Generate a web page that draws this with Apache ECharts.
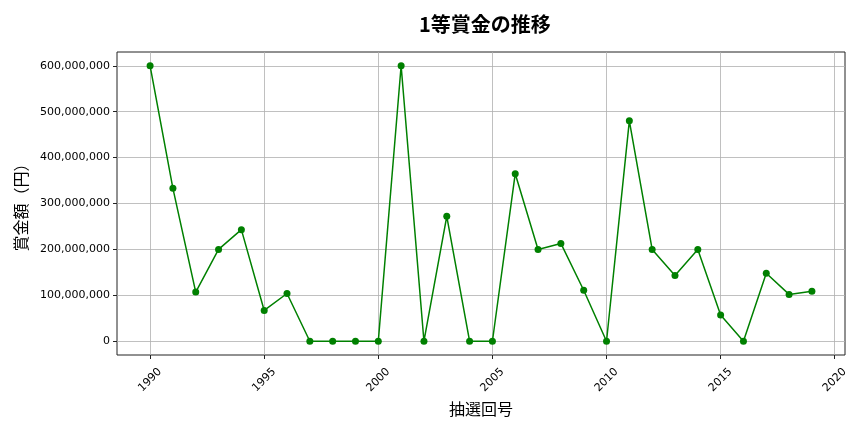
<!DOCTYPE html>
<html>
<head>
<meta charset="utf-8">
<script src="https://cdn.jsdelivr.net/npm/echarts@6/dist/echarts.min.js"></script>
<style>
  html, body { margin: 0; padding: 0; background: #fff; }
  #chart { width: 864px; height: 432px; }
</style>
</head>
<body>
<div id="chart"></div>
<script>
// 抽選回号 (x) と 1等賞金 (y)
const years = [1990, 1991, 1992, 1993, 1994, 1995, 1996, 1997, 1998, 1999,
               2000, 2001, 2002, 2003, 2004, 2005, 2006, 2007, 2008, 2009,
               2010, 2011, 2012, 2013, 2014, 2015, 2016, 2017, 2018, 2019];
const prize = [600000000, 333000000, 107000000, 200000000, 243000000, 67000000, 104000000, 0, 0, 0,
               0, 600000000, 0, 272000000, 0, 0, 365000000, 200000000, 213000000, 111000000,
               0, 480000000, 200000000, 143000000, 200000000, 57000000, 0, 148000000, 102000000, 109000000];
const xTicks = [1990, 1995, 2000, 2005, 2010, 2015, 2020];
const yTicks = [0, 100000000, 200000000, 300000000, 400000000, 500000000, 600000000];

const cjk = '"Noto Sans CJK JP", "Noto Sans", sans-serif';
const num = '"DejaVu Sans", sans-serif';

let mycharts = echarts.init(document.getElementById('chart'), null, { renderer: 'canvas' });

let option
option = {
  backgroundColor: '#ffffff',
  animation: false,
  title: {
    text: '1等賞金の推移',
    left: 414,
    top: 9,
    textStyle: { fontFamily: cjk, fontSize: 20, fontWeight: 'bold', color: '#000' }
  },
  grid: {
    left: 117, right: 19, top: 52, bottom: 77,
    show: true,
    borderColor: '#222',
    borderWidth: 1
  },
  xAxis: {
    type: 'value',
    min: 1988.55,
    max: 2020.45,
    name: '抽選回号',
    nameLocation: 'middle',
    nameGap: 42,
    nameTextStyle: { fontFamily: cjk, fontSize: 16, color: '#000' },
    axisLine: { show: false, onZero: false },
    axisTick: { show: true, length: 4, lineStyle: { color: '#222' }, customValues: xTicks },
    axisLabel: {
      customValues: xTicks,
      rotate: 45,
      align: 'center',
      verticalAlign: 'middle',
      margin: 25,
      fontFamily: num,
      fontSize: 11,
      color: '#000',
      formatter: v => String(v)
    },
    splitLine: { show: true, lineStyle: { color: '#b0b0b0', width: 0.8 } }
  },
  yAxis: {
    type: 'value',
    min: -30000000,
    max: 630000000,
    name: '賞金額（円）',
    nameLocation: 'middle',
    nameGap: 88,
    nameTextStyle: { fontFamily: cjk, fontSize: 16, color: '#000' },
    axisLine: { show: false, onZero: false },
    axisTick: { show: true, length: 4, lineStyle: { color: '#222' }, customValues: yTicks },
    axisLabel: {
      customValues: yTicks,
      margin: 7,
      fontFamily: num,
      fontSize: 11,
      color: '#000',
      formatter: v => Math.round(v).toLocaleString('en-US')
    },
    splitLine: { show: true, lineStyle: { color: '#b0b0b0', width: 0.8 } }
  },
  series: [
    {
      type: 'line',
      data: years.map((y, i) => [y, prize[i]]),
      symbol: 'circle',
      symbolSize: 7,
      showAllSymbol: true,
      lineStyle: { color: '#008000', width: 1.5 },
      itemStyle: { color: '#008000' },
      z: 5
    }
  ]
}
mycharts.setOption(option)
</script>
</body>
</html>
